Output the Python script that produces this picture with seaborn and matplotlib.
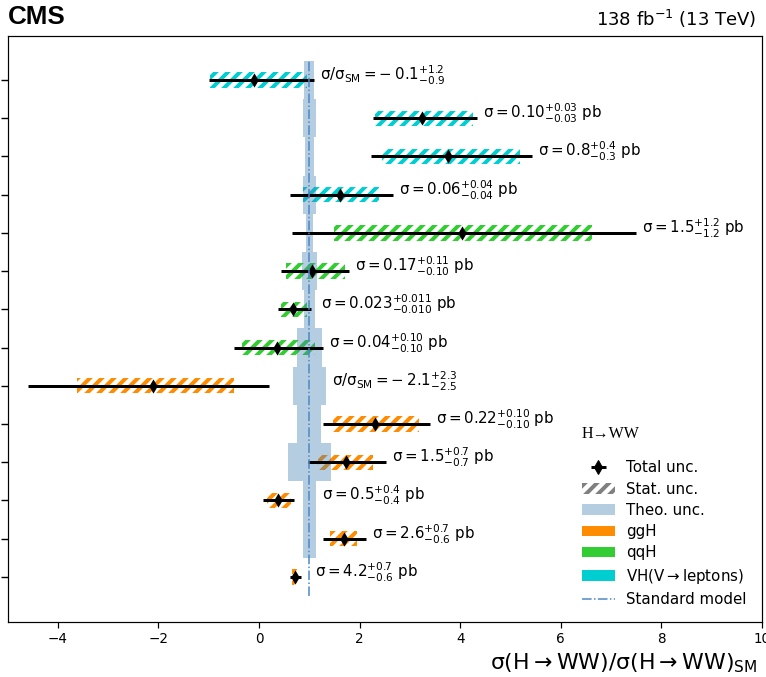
import numpy as np
import pandas as pd
import matplotlib
matplotlib.use("Agg")
import matplotlib.pyplot as plt
from matplotlib.patches import Patch
from matplotlib.lines import Line2D
from matplotlib.collections import LineCollection
from matplotlib.container import ErrorbarContainer
import seaborn as sns

# Results per bin, listed from the top row to the bottom row
modes = ["VH", "VH", "VH", "VH", "qqH", "qqH", "qqH", "qqH",
         "ggH", "ggH", "ggH", "ggH", "ggH", "ggH"]
# signal strength (sigma / sigma_SM) with total and statistical intervals
mu = [-0.1, 3.24, 3.76, 1.61, 4.04, 1.05, 0.68, 0.36, -2.1, 2.31, 1.73, 0.38, 1.69, 0.72]
tot_lo = [-1.0, 2.27, 2.23, 0.62, 0.66, 0.44, 0.38, -0.50, -4.6, 1.27, 0.97, 0.08, 1.27, 0.61]
tot_hi = [1.1, 4.33, 5.43, 2.66, 7.50, 1.79, 1.03, 1.27, 0.2, 3.40, 2.52, 0.70, 2.13, 0.83]
stat_lo = [-0.97, 2.31, 2.45, 0.87, 1.49, 0.54, 0.44, -0.34, -3.62, 1.47, 1.17, 0.16, 1.41, 0.66]
stat_hi = [0.95, 4.25, 5.19, 2.39, 6.62, 1.71, 0.95, 1.11, -0.50, 3.18, 2.27, 0.64, 1.95, 0.76]
# half-width of the theory uncertainty on the SM prediction
theo = [0.10, 0.125, 0.09, 0.13, 0.065, 0.15, 0.11, 0.25, 0.33, 0.24, 0.43, 0.13, 0.13, 0.0]

# quoted numbers: either a ratio to the SM or a cross section in pb
quote_kind = ["ratio", "pb", "pb", "pb", "pb", "pb", "pb", "pb",
              "ratio", "pb", "pb", "pb", "pb", "pb"]
quote_val = ["-0.1", "0.10", "0.8", "0.06", "1.5", "0.17", "0.023", "0.04",
             "-2.1", "0.22", "1.5", "0.5", "2.6", "4.2"]
quote_up = ["1.2", "0.03", "0.4", "0.04", "1.2", "0.11", "0.011", "0.10",
            "2.3", "0.10", "0.7", "0.4", "0.7", "0.7"]
quote_dn = ["0.9", "0.03", "0.3", "0.04", "1.2", "0.10", "0.010", "0.10",
            "2.5", "0.10", "0.7", "0.4", "0.6", "0.6"]

mode_colors = {"ggH": "#ff8c00", "qqH": "#32cd32", "VH": "#00ced1"}
band_color = "steelblue"
sm_color = "#4a86c4"

n = len(mu)
df = pd.DataFrame({
    "mode": modes, "mu": mu, "tot_lo": tot_lo, "tot_hi": tot_hi,
    "stat_lo": stat_lo, "stat_hi": stat_hi, "theo": theo,
})
df["pos"] = np.arange(n)[::-1]

sns.set_theme(style="ticks")
plt.rcParams.update({
    "font.family": ["DejaVu Sans"],
    "mathtext.default": "regular",
    "hatch.linewidth": 4.0,
    "text.color": "black",
    "axes.labelcolor": "black",
    "axes.edgecolor": "black",
    "axes.linewidth": 1.2,
    "xtick.color": "black",
    "ytick.color": "black",
})

W, H = 766, 677
fig = plt.figure(figsize=(W / 72, H / 72), dpi=72)
ax = fig.add_axes([7.5 / W, (H - 622) / H, 754.5 / W, 586 / H])

# statistical uncertainty: hatched boxes in the production-mode colour
for _, r in df.iterrows():
    ax.barh(r["pos"], r["stat_hi"] - r["stat_lo"], left=r["stat_lo"], height=0.4,
            facecolor="none", edgecolor=mode_colors[r["mode"]], hatch="//",
            linewidth=0, zorder=1)

# theory uncertainty band around the SM expectation (one stepped polygon)
bottom_up = df.sort_values("pos")
edges = np.append(bottom_up["pos"].values - 0.5, bottom_up["pos"].values[-1] + 0.5)
half = np.append(bottom_up["theo"].values, bottom_up["theo"].values[-1])
ax.fill_betweenx(edges, 1 - half, 1 + half, step="post", color=band_color,
                 alpha=0.4, linewidth=0, zorder=2)

# total uncertainty
ax.errorbar(df["mu"], df["pos"],
            xerr=[df["mu"] - df["tot_lo"], df["tot_hi"] - df["mu"]],
            fmt="none", ecolor="black", elinewidth=3, capsize=0, zorder=3)

# central values
sns.scatterplot(data=df, x="mu", y="pos", marker="d", color="black", s=100,
                linewidth=0, zorder=4, ax=ax, legend=False)

# SM expectation
ax.vlines(1.0, -0.5, n - 0.5, colors=sm_color, linestyles="-.", linewidth=1.5, zorder=5)


def signed(v):
    return v.replace("-", r"-\:")


# quoted results next to each bin
for i, r in df.iterrows():
    if quote_kind[i] == "ratio":
        lab = r"$\sigma/\sigma_{SM} = %s^{+%s}_{-%s}$" % (signed(quote_val[i]), quote_up[i], quote_dn[i])
    else:
        lab = r"$\sigma = %s^{+%s}_{-%s}$ pb" % (quote_val[i], quote_up[i], quote_dn[i])
    x_txt = max(r["tot_hi"], 1 + r["theo"]) + 0.12
    ax.text(x_txt, r["pos"] + 0.12, lab, ha="left", va="center", fontsize=15, zorder=6)

ax.set_xlim(-5, 10)
ax.set_ylim(-1.18, n - 1 + 1.15)
ax.set_xticks(np.arange(-4, 11, 2))
ax.set_yticks(df["pos"])
ax.set_yticklabels([])
ax.tick_params(axis="x", direction="out", length=6, width=1.2, labelsize=13.5, pad=4)
ax.tick_params(axis="y", direction="out", length=7, width=1.4)
ax.set_ylabel("")
ax.set_xlabel(r"$\sigma(H \rightarrow WW)/\sigma(H \rightarrow WW)_{SM}$", fontsize=22)
ax.xaxis.set_label_coords(0.994, -0.05)
ax.xaxis.label.set_horizontalalignment("right")
ax.xaxis.label.set_verticalalignment("top")
for sp in ax.spines.values():
    sp.set_visible(True)
    sp.set_color("black")
    sp.set_linewidth(1.2)

ax.text(0.0, 1.012, "CMS", transform=ax.transAxes, ha="left", va="bottom",
        fontsize=26, fontweight="bold", family=["Liberation Sans", "DejaVu Sans"])
ax.text(0.993, 1.01, r"138 fb$^{-1}$ (13 TeV)", transform=ax.transAxes,
        ha="right", va="bottom", fontsize=18)

# legend
tot_marker = Line2D([], [], marker="d", color="black", linestyle="none", markersize=10)
tot_bar = LineCollection([], colors="black", linewidths=3)
tot_handle = ErrorbarContainer((tot_marker, (), (tot_bar,)), has_xerr=True, has_yerr=False)
handles = [
    tot_handle,
    Patch(facecolor="none", edgecolor="grey", hatch="//", linewidth=0),
    Patch(facecolor=band_color, alpha=0.4, linewidth=0),
    Patch(facecolor=mode_colors["ggH"], linewidth=0),
    Patch(facecolor=mode_colors["qqH"], linewidth=0),
    Patch(facecolor=mode_colors["VH"], linewidth=0),
    Line2D([], [], color=sm_color, linestyle="-.", linewidth=1.5),
]
labels = ["Total unc.", "Stat. unc.", "Theo. unc.", "ggH", "qqH",
          r"VH(V$\rightarrow$leptons)", "Standard model"]
leg = ax.legend(handles, labels, loc="lower right", frameon=False, fontsize=15,
                title="H→WW", handlelength=2.2, handletextpad=0.8,
                labelspacing=0.42, borderaxespad=0.6, alignment="left")
leg.get_title().set_fontfamily(["Liberation Serif", "DejaVu Serif"])
leg.get_title().set_fontsize(16)
leg._legend_box.sep = 18

fig.savefig("out.png", dpi=72)
